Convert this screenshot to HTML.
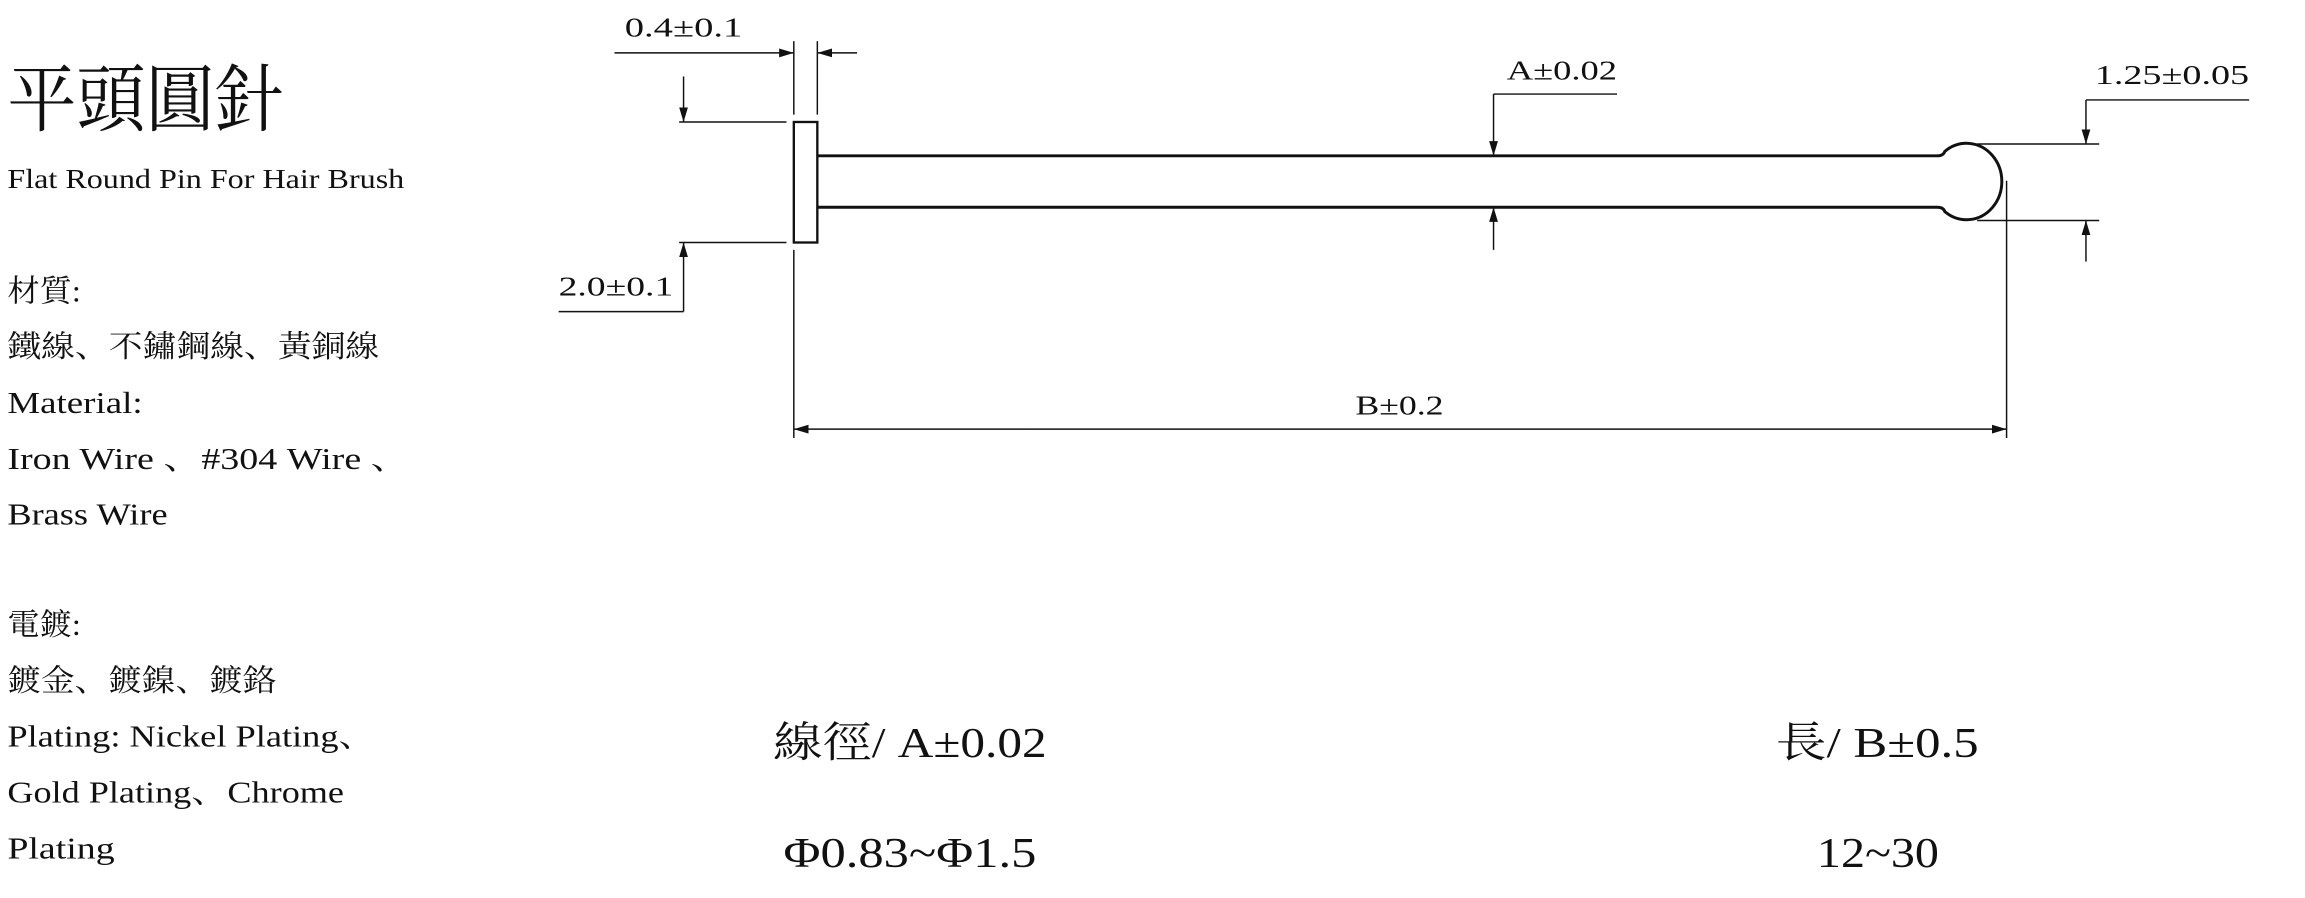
<!DOCTYPE html>
<html><head><meta charset="utf-8"><style>html,body{margin:0;padding:0;background:#fff}svg{display:block}</style></head>
<body>
<svg width="2305" height="898" viewBox="0 0 1568 611" preserveAspectRatio="none" xmlns="http://www.w3.org/2000/svg">
<defs>
<marker id="ar" viewBox="0 0 10 6" refX="10" refY="3" markerWidth="10" markerHeight="6" markerUnits="userSpaceOnUse" orient="auto"><path d="M0,0 L10,3 L0,6 z" fill="#111"/></marker>
</defs>
<g font-family="'Liberation Serif','Noto Serif CJK SC',serif" fill="#111">
<text x="5" y="85" font-size="50" textLength="188" lengthAdjust="spacingAndGlyphs">平頭圓針</text>
<text x="5" y="128" font-size="19" textLength="270" lengthAdjust="spacingAndGlyphs">Flat Round Pin For Hair Brush</text>
<g font-size="21">
<text x="5" y="205" textLength="50" lengthAdjust="spacingAndGlyphs">材質:</text>
<text x="5" y="243" textLength="253" lengthAdjust="spacingAndGlyphs">鐵線、不鏽鋼線、黃銅線</text>
<text x="5" y="281" textLength="92" lengthAdjust="spacingAndGlyphs">Material:</text>
<text x="5" y="319" textLength="273" lengthAdjust="spacingAndGlyphs">Iron  Wire 、#304  Wire 、</text>
<text x="5" y="357" textLength="109" lengthAdjust="spacingAndGlyphs">Brass Wire</text>
<text x="5" y="432" textLength="50" lengthAdjust="spacingAndGlyphs">電鍍:</text>
<text x="5" y="470" textLength="183" lengthAdjust="spacingAndGlyphs">鍍金、鍍鎳、鍍鉻</text>
<text x="5" y="508" textLength="250" lengthAdjust="spacingAndGlyphs">Plating: Nickel Plating、</text>
<text x="5" y="546" textLength="229" lengthAdjust="spacingAndGlyphs">Gold Plating、Chrome</text>
<text x="5" y="584" textLength="73" lengthAdjust="spacingAndGlyphs">Plating</text>
</g>
<g font-size="29">
<text x="526" y="515" textLength="186" lengthAdjust="spacingAndGlyphs">線徑/ A±0.02</text>
<text x="533" y="590" textLength="172" lengthAdjust="spacingAndGlyphs">Φ0.83~Φ1.5</text>
<text x="1208" y="515" textLength="138" lengthAdjust="spacingAndGlyphs">長/ B±0.5</text>
<text x="1236" y="590" textLength="83" lengthAdjust="spacingAndGlyphs">12~30</text>
</g>
<g font-size="19">
<text x="425" y="25" textLength="80" lengthAdjust="spacingAndGlyphs">0.4±0.1</text>
<text x="380" y="201" textLength="78" lengthAdjust="spacingAndGlyphs">2.0±0.1</text>
<text x="1025" y="54" textLength="75" lengthAdjust="spacingAndGlyphs">A±0.02</text>
<text x="1425" y="57" textLength="105" lengthAdjust="spacingAndGlyphs">1.25±0.05</text>
<text x="922" y="282" textLength="60" lengthAdjust="spacingAndGlyphs">B±0.2</text>
</g>
</g>
<g stroke="#111" fill="none" stroke-width="1">
<rect x="540" y="83" width="16" height="82" stroke-width="1.6"/>
<path d="M556,106 L1318,106 Q1322,106 1323,103 A24,26 0 1 1 1323,144 Q1322,141 1318,141 L556,141" stroke-width="2"/>
<line x1="540" y1="28" x2="540" y2="78"/>
<line x1="556" y1="28" x2="556" y2="78"/>
<line x1="418" y1="36" x2="540" y2="36" marker-end="url(#ar)"/>
<line x1="583" y1="36" x2="556" y2="36" marker-end="url(#ar)"/>
<line x1="462" y1="83" x2="535" y2="83"/>
<line x1="462" y1="165" x2="535" y2="165"/>
<line x1="465" y1="52" x2="465" y2="83" marker-end="url(#ar)"/>
<line x1="465" y1="212" x2="465" y2="165" marker-end="url(#ar)"/>
<line x1="380" y1="212" x2="465" y2="212"/>
<line x1="1016" y1="64" x2="1016" y2="106" marker-end="url(#ar)"/>
<line x1="1016" y1="170" x2="1016" y2="141" marker-end="url(#ar)"/>
<line x1="1016" y1="64" x2="1100" y2="64"/>
<line x1="1345" y1="98" x2="1428" y2="98"/>
<line x1="1345" y1="150" x2="1428" y2="150"/>
<line x1="1419" y1="68" x2="1419" y2="98" marker-end="url(#ar)"/>
<line x1="1419" y1="178" x2="1419" y2="150" marker-end="url(#ar)"/>
<line x1="1419" y1="68" x2="1530" y2="68"/>
<line x1="540" y1="170" x2="540" y2="298"/>
<line x1="1365" y1="123" x2="1365" y2="298"/>
<line x1="700" y1="292" x2="540" y2="292" marker-end="url(#ar)"/>
<line x1="700" y1="292" x2="1365" y2="292" marker-end="url(#ar)"/>
</g>
</svg>
</body></html>
